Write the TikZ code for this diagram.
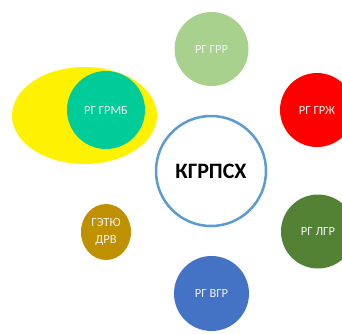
\documentclass[tikz,border=0pt]{standalone}
\usepackage{fontspec}
\setmainfont{Carlito}
\usetikzlibrary{shapes.geometric}
\definecolor{cgrr}{HTML}{A9D18E}
\definecolor{cgrzh}{HTML}{FF0000}
\definecolor{clgr}{HTML}{548235}
\definecolor{cvgr}{HTML}{4472C4}
\definecolor{cgetu}{HTML}{BF9000}
\definecolor{cgrmb}{HTML}{00CC99}
\definecolor{cblue}{HTML}{5B9BD5}
\definecolor{ctxt}{HTML}{F2F2F2}
\tikzset{
  grp/.style={circle, minimum size=74pt, inner sep=0pt, text=ctxt, font=\fontsize{12.5}{16.5}\selectfont, align=center},
}
\begin{document}
\begin{tikzpicture}[x=1pt,y=1pt]
\useasboundingbox (0,0) rectangle (342,333);
\begin{scope}
\clip (0,0) rectangle (342,333);
\node[ellipse, fill=yellow, minimum width=145pt, minimum height=97pt, inner sep=0pt] (yel) at (84.5,217.5) {};
\node[grp, fill=cgrmb, minimum size=78pt] (grmb) at (106,223) {РГ ГРМБ};
\node[circle, draw=cblue, line width=2.5pt, fill=white, minimum size=110pt, inner sep=0pt, font=\bfseries\fontsize{22}{24}\selectfont] (center) at (211,162) {КГРПСХ};
\node[grp, fill=cgrr] (grr) at (211.5,284) {РГ ГРР};
\node[grp, fill=cgrzh] (grzh) at (317,223) {РГ ГРЖ};
\node[grp, fill=clgr] (lgr) at (318,101.5) {РГ ЛГР};
\node[grp, fill=cvgr, minimum size=75pt] (vgr) at (211.5,39.5) {РГ ВГР};
\node[ellipse, fill=cgetu, minimum width=50pt, minimum height=56pt, inner sep=0pt, text=ctxt, font=\fontsize{12.5}{16.5}\selectfont, align=center] (getu) at (106,101) {ГЭТЮ\\ДРВ};
\end{scope}
\end{tikzpicture}
\end{document}
